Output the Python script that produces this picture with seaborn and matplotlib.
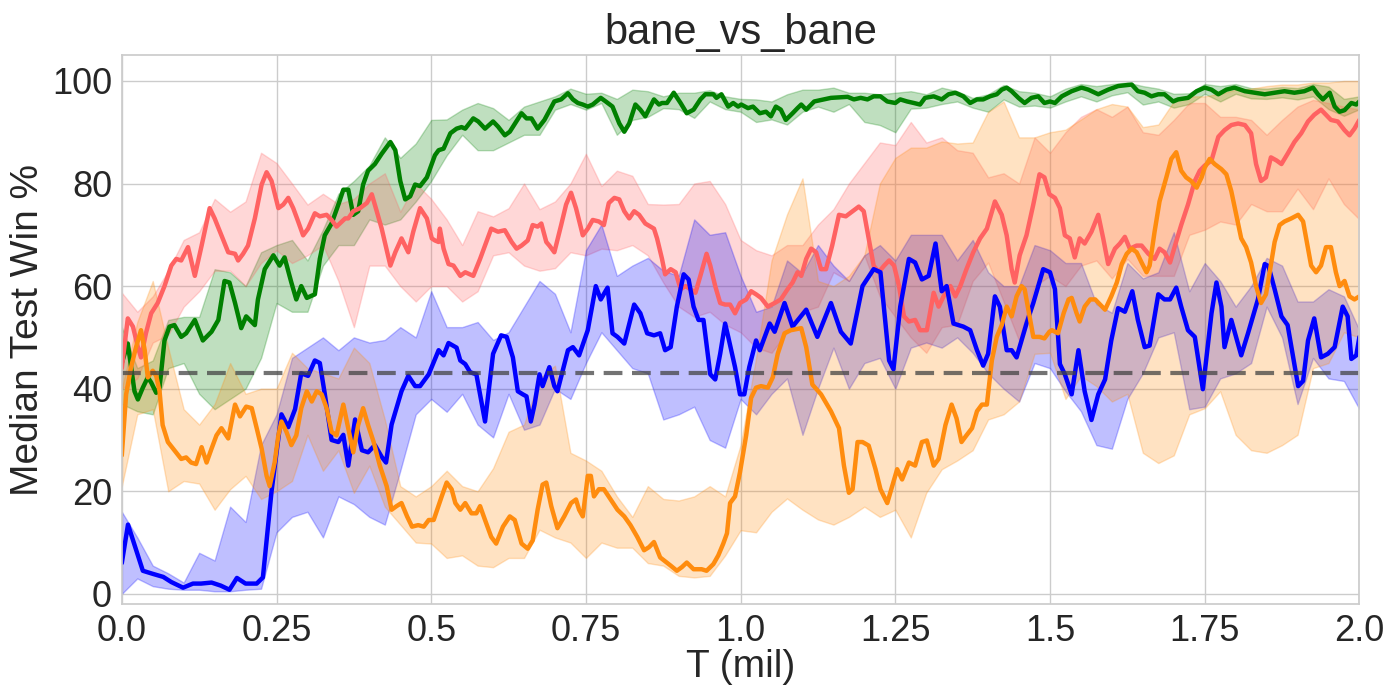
# bane_vs_bane: median test win % over training time, four runs with spread bands

import numpy as np
import pandas as pd
import matplotlib
matplotlib.use('Agg')
import matplotlib.pyplot as plt
import seaborn as sns

# Median lines (x in millions of steps, y in %).
blue_x = [0.0, 0.01, 0.034, 0.05, 0.067, 0.08, 0.099, 0.115, 0.128, 0.145, 0.16, 0.174, 0.186, 0.2, 0.218, 0.228,
          0.242, 0.258, 0.269, 0.28, 0.29, 0.301, 0.312, 0.32, 0.328, 0.339, 0.35, 0.358, 0.366, 0.377, 0.388,
          0.398, 0.409, 0.42, 0.427, 0.436, 0.452, 0.463, 0.474, 0.482, 0.496,
          0.512, 0.52, 0.528, 0.541, 0.547, 0.555, 0.563, 0.573, 0.587, 0.6, 0.613, 0.622, 0.632, 0.64, 0.648,
          0.654, 0.661, 0.667, 0.675, 0.68, 0.691, 0.699, 0.704, 0.721, 0.729, 0.739, 0.753, 0.766, 0.774, 0.785,
          0.793, 0.801, 0.812, 0.828, 0.838, 0.849, 0.86, 0.87, 0.878, 0.887, 0.897, 0.908, 0.916, 0.924, 0.932,
          0.94, 0.951, 0.959, 0.967, 0.975, 0.98, 0.991, 0.999,
          1.006, 1.014, 1.025, 1.031, 1.047, 1.055, 1.071, 1.084, 1.106, 1.124, 1.146, 1.162, 1.178, 1.197, 1.215,
          1.226, 1.24, 1.247, 1.258, 1.272, 1.282, 1.293, 1.304, 1.315, 1.325, 1.333, 1.344, 1.36, 1.371, 1.382,
          1.392, 1.4, 1.411, 1.419, 1.43, 1.438, 1.446, 1.462, 1.473, 1.489,
          1.5, 1.508, 1.516, 1.524, 1.535, 1.546, 1.556, 1.567, 1.578, 1.589, 1.599, 1.61, 1.621, 1.633, 1.642,
          1.653, 1.661, 1.675, 1.685, 1.694, 1.704, 1.712, 1.723, 1.734, 1.747, 1.761, 1.769, 1.777, 1.782, 1.793,
          1.809, 1.82, 1.836, 1.847, 1.853, 1.863, 1.874, 1.884, 1.901, 1.909, 1.917, 1.927, 1.938, 1.949, 1.96,
          1.973, 1.981, 1.987, 1.995, 2.0]
blue_y = [6, 13.5, 4.5, 3.9, 3.3, 2.3, 1.2, 2.0, 2.0, 2.2, 1.6, 0.8, 3.1, 2.0, 2.0, 3.2,
          20, 35, 32.5, 36, 43, 42.5, 45.5, 45, 39, 30, 29.6, 31, 25, 34, 28,
          27.6, 29, 26.7, 25.6, 33, 39.5, 42.5, 40.5, 40.5, 42.8,
          47.5, 46.5, 48.9, 48, 45.5, 44.8, 43.2, 42.8, 33.6, 46.8, 50.4, 50.1, 46.1, 39.5, 38.9,
          38.5, 33.6, 36.9, 42.8, 40.5, 44.2, 40.5, 39.5, 47.5, 48.1, 46.5, 51.4, 60, 57.4, 59.7,
          50.8, 50.1, 48.8, 56.4, 54.7, 50.8, 50.4, 50.8, 47.5, 48.1, 56, 62.3, 61.3, 56, 53.4,
          53.4, 42.8, 41.8, 46.8, 52.7, 50.1, 44.2, 38.9,
          38.9, 44.2, 49.4, 47.5, 52.7, 51.1, 56.7, 52.1, 55.4, 50.1, 56.7, 51.1, 48.8, 60, 63.3,
          62.7, 45.5, 43.8, 56, 65.3, 64.6, 61.3, 62, 68.3, 59, 60, 52.7, 52.1, 51.4, 47.5,
          44.5, 46.8, 58, 56, 47.5, 47.5, 46.1, 52.7, 56.7, 63.3,
          62.7, 59.4, 44.8, 42.8, 38.9, 47.5, 39.5, 33.9, 38.9, 41.8, 49.4, 55.7, 55, 59, 53.4,
          48.1, 48.4, 58.4, 57.4, 57.4, 59.7, 56, 51.4, 50.1, 39.9, 54.7, 60.7, 56, 48.1, 53.4,
          46.5, 50.8, 57.4, 64.3, 63.9, 59.4, 54.1, 52.4, 40.5, 41.5, 49.4, 53.7, 46.1, 46.8, 48.1,
          56, 54.1, 45.8, 46.5, 50.1]

green_x = [0.0, 0.0097, 0.015, 0.0205, 0.026, 0.034, 0.042, 0.0475, 0.0556, 0.061, 0.069, 0.077, 0.085, 0.096,
           0.104, 0.118, 0.131, 0.145, 0.156, 0.166, 0.174, 0.183, 0.193, 0.201, 0.215, 0.22, 0.231, 0.245, 0.255,
           0.263, 0.274, 0.282, 0.29, 0.299, 0.312, 0.32, 0.328, 0.339, 0.35, 0.358, 0.366, 0.374, 0.382, 0.39,
           0.398, 0.409, 0.42, 0.434, 0.442, 0.45, 0.458, 0.466, 0.474, 0.482, 0.493, 0.506,
           0.512, 0.52, 0.531, 0.541, 0.549, 0.555, 0.568, 0.576, 0.587, 0.6, 0.608, 0.619, 0.627, 0.646, 0.654,
           0.662, 0.672, 0.683, 0.699, 0.71, 0.721, 0.729, 0.737, 0.745, 0.753, 0.761, 0.774, 0.782, 0.793, 0.804,
           0.812, 0.82, 0.83, 0.838, 0.846, 0.86, 0.868, 0.873, 0.881, 0.892, 0.903, 0.913, 0.924, 0.935, 0.943,
           0.956, 0.961, 0.969, 0.98, 0.988, 0.996,
           1.001, 1.012, 1.02, 1.031, 1.041, 1.049, 1.057, 1.065, 1.073, 1.084, 1.092, 1.098, 1.106, 1.119, 1.146,
           1.173, 1.183, 1.194, 1.205, 1.215, 1.226, 1.237, 1.25, 1.258, 1.269, 1.28, 1.29, 1.298, 1.312, 1.325,
           1.336, 1.347, 1.36, 1.371, 1.382, 1.392, 1.403, 1.414, 1.422, 1.43, 1.438, 1.449, 1.459, 1.47, 1.481,
           1.491,
           1.5, 1.508, 1.519, 1.535, 1.551, 1.562, 1.578, 1.594, 1.61, 1.632, 1.642, 1.653, 1.664, 1.675, 1.685,
           1.699, 1.707, 1.723, 1.737, 1.75, 1.761, 1.772, 1.785, 1.798, 1.815, 1.831, 1.847, 1.863, 1.879, 1.895,
           1.911, 1.925, 1.933, 1.941, 1.952, 1.96, 1.968, 1.976, 1.987, 1.995, 2.0]
green_y = [45, 48.8, 44.2, 39.5, 37.9, 40.2, 42.2, 41.2, 39.2, 40.2, 49.4, 52.1, 52.4, 50.1,
           50.8, 53.4, 49.4, 51.1, 53.4, 61, 60.7, 56.7, 51.8, 54.1, 52.4, 57.4, 63.3, 66, 64,
           65.6, 60.7, 57.4, 60, 57.7, 58.4, 65.3, 69.9, 72.2, 75.9, 78.8, 78.8, 73.9, 74.6, 79.8,
           82.5, 83.8, 85.8, 88.1, 86.5, 80.5, 76.9, 77.5, 79.8, 79.5, 81.2, 85.5,
           86.5, 86.8, 89.8, 90.7, 91, 90.7, 92.7, 92.1, 90.7, 92.1, 91.1, 89.4, 90.1, 93.7, 92.7,
           92.7, 90.7, 92.4, 96, 96.4, 97.6, 96.4, 95.7, 95.4, 95, 95.4, 96.7, 96, 95, 91.7,
           90.1, 91.7, 95.4, 94.4, 93.1, 96.4, 95.4, 95.7, 95.7, 97.7, 95.7, 93.7, 94.4, 96.4, 97.4,
           97.4, 96.7, 97.4, 95, 95.7, 95,
           95.4, 94.7, 95, 93.7, 94, 93.1, 95, 94.4, 92.4, 93.7, 94.7, 95.4, 94.4, 96, 96.7,
           96.9, 96.4, 96.7, 96.4, 97, 97, 96, 95.7, 96.4, 96, 95.7, 95.4, 96.7, 97, 96.4,
           97.4, 97.7, 97, 95.7, 96.4, 96.4, 97, 97.4, 98.3, 98.7, 98, 96.7, 95.7, 96.7, 97,
           95.7,
           96, 95.7, 97, 98, 98.7, 98.3, 97.4, 98.3, 99, 99.3, 98, 97.7, 97, 97.4, 97.4,
           96, 96.4, 96.7, 98, 98.7, 98.3, 97.4, 98.3, 98.7, 98, 97.7, 97.4, 97.7, 98, 97.7,
           98, 98.7, 97.4, 96.4, 97.7, 95, 94, 94.3, 95.7, 95.4, 96]

red_x = [0.0, 0.0097, 0.018, 0.026, 0.031, 0.039, 0.0475, 0.058, 0.069, 0.08, 0.088, 0.096, 0.107, 0.118, 0.129,
         0.142, 0.15, 0.161, 0.172, 0.183, 0.188, 0.196, 0.204, 0.215, 0.226, 0.234, 0.242, 0.253, 0.261, 0.269,
         0.277, 0.285, 0.293, 0.301, 0.312, 0.32, 0.331, 0.339, 0.347, 0.361, 0.366, 0.374, 0.385, 0.396, 0.404,
         0.412, 0.42, 0.434, 0.442, 0.452, 0.463, 0.471, 0.482, 0.493, 0.501, 0.506,
         0.512, 0.514, 0.52, 0.528, 0.536, 0.547, 0.555, 0.568, 0.579, 0.587, 0.597, 0.608, 0.619, 0.63, 0.638,
         0.646, 0.656, 0.664, 0.672, 0.678, 0.686, 0.691, 0.699, 0.71, 0.718, 0.726, 0.734, 0.745, 0.753, 0.761,
         0.771, 0.779, 0.787, 0.796, 0.804, 0.812, 0.82, 0.828, 0.836, 0.846, 0.86, 0.865, 0.873, 0.878, 0.887,
         0.895, 0.903, 0.911, 0.919, 0.927, 0.935, 0.945, 0.951, 0.959, 0.967, 0.975, 0.983, 0.991, 0.999,
         1.009, 1.017, 1.025, 1.033, 1.044, 1.055, 1.065, 1.076, 1.084, 1.092, 1.098, 1.106, 1.114, 1.122, 1.13,
         1.138, 1.148, 1.159, 1.17, 1.181, 1.191, 1.199, 1.207, 1.215, 1.223, 1.232, 1.24, 1.248, 1.256, 1.264,
         1.272, 1.282, 1.29, 1.301, 1.312, 1.32, 1.328, 1.339, 1.347, 1.355, 1.365, 1.376, 1.387, 1.398, 1.411,
         1.422, 1.43, 1.438, 1.443, 1.451, 1.462, 1.473, 1.483, 1.491, 1.499,
         1.508, 1.516, 1.524, 1.532, 1.54, 1.548, 1.556, 1.567, 1.578, 1.586, 1.594, 1.605, 1.613, 1.621, 1.629,
         1.64, 1.648, 1.659, 1.669, 1.677, 1.685, 1.694, 1.702, 1.712, 1.723, 1.734, 1.742, 1.75, 1.761, 1.772,
         1.782, 1.793, 1.804, 1.815, 1.825, 1.833, 1.841, 1.849, 1.857, 1.866, 1.874, 1.884, 1.895, 1.906, 1.917,
         1.927, 1.938, 1.946, 1.954, 1.965, 1.976, 1.984, 1.992, 2.0]
red_y = [44, 53.7, 52.1, 48.1, 46.1, 50.8, 54.7, 56.7, 60, 64, 65.3, 65, 67.6, 62, 67.9,
         75.2, 73.2, 69.9, 66.6, 66.3, 65, 66.3, 67.9, 73.2, 79.8, 82.2, 80.5, 75.2, 75.9, 77.2,
         75.2, 72.6, 69.9, 71.2, 74.2, 73.6, 73.9, 72.9, 71.6, 73.2, 73.2, 74.6, 75.2, 76.2, 77.9,
         74.6, 71.2, 64, 66.6, 69.3, 66.6, 70.6, 75.2, 73.2, 69.3, 68.9,
         68.6, 71.2, 67.3, 64.3, 64, 62, 62.7, 62, 65.3, 67.9, 71.2, 70.6, 70.9, 68.6, 67.3,
         67.9, 68.9, 71.9, 71.6, 72.2, 68.6, 67.9, 66.6, 71.9, 75.9, 78.2, 75.2, 69.9, 71.2, 72.9,
         72.6, 71.9, 76.2, 77.2, 76.9, 74.6, 73.2, 74.6, 73.9, 72.2, 71.2, 69.3, 65.3, 62.3, 63.3,
         62.7, 59.4, 60, 59.4, 58.7, 62, 66.3, 64, 60, 56.7, 56.4, 56.4, 54.7, 56.7,
         57.4, 59, 58.4, 57.7, 56, 56.7, 57.4, 59.4, 60.7, 62.7, 62, 65.3, 67.3, 66.6, 63.3,
         63.3, 67.9, 73.9, 73.6, 74.6, 75.5, 74.6, 69.3, 64, 62.7, 64, 65, 64, 60, 54.1,
         53.1, 53.4, 51.4, 51.4, 58.7, 56, 58, 60, 58, 60, 63.3, 66.6, 69.3, 71.2, 76.5,
         73.9, 69.9, 63.3, 60.7, 66, 69.9, 75.9, 81.8, 81.2, 77.9,
         77.2, 75.2, 69.9, 69.3, 65.6, 69.3, 68.3, 70.6, 73.9, 69.3, 64.3, 67.3, 68.3, 69.6, 67.3,
         67.9, 67.9, 66.3, 65.3, 67.3, 66.6, 64.6, 67.9, 71.9, 75.9, 80.5, 82.5, 83.5, 84.5, 89.1,
         90.4, 91.4, 91.7, 91.4, 89.8, 83.8, 80.5, 81.2, 85.1, 84.5, 83.8, 85.8, 88.1, 89.8, 92.1,
         93.4, 94.4, 93.4, 92.4, 92.1, 90.4, 89.4, 90.7, 92.4]

orange_x = [0.0, 0.007, 0.015, 0.023, 0.031, 0.037, 0.042, 0.05, 0.0556, 0.061, 0.066, 0.0745, 0.085, 0.096,
            0.104, 0.112, 0.12, 0.129, 0.137, 0.145, 0.153, 0.161, 0.172, 0.183, 0.191, 0.201, 0.21, 0.218, 0.226,
            0.234, 0.239, 0.247, 0.253, 0.258, 0.266, 0.274, 0.282, 0.29, 0.299, 0.307, 0.315, 0.323, 0.331, 0.339,
            0.347, 0.358, 0.366, 0.374, 0.382, 0.39, 0.398, 0.407, 0.417, 0.428, 0.436, 0.444, 0.452, 0.461, 0.469,
            0.479, 0.488, 0.496, 0.504,
            0.517, 0.525, 0.533, 0.539, 0.547, 0.555, 0.565, 0.573, 0.579, 0.587, 0.597, 0.605, 0.616, 0.627, 0.635,
            0.646, 0.656, 0.664, 0.672, 0.68, 0.686, 0.694, 0.704, 0.715, 0.726, 0.734, 0.739, 0.745, 0.753, 0.758,
            0.763, 0.771, 0.779, 0.79, 0.801, 0.812, 0.822, 0.833, 0.844, 0.852, 0.86, 0.87, 0.887, 0.897, 0.905,
            0.913, 0.924, 0.937, 0.945, 0.956, 0.964, 0.972, 0.978, 0.983, 0.991, 0.999,
            1.009, 1.017, 1.025, 1.033, 1.044, 1.052, 1.06, 1.071, 1.081, 1.098, 1.106, 1.116, 1.13, 1.146, 1.159,
            1.167, 1.175, 1.181, 1.189, 1.197, 1.207, 1.218, 1.226, 1.237, 1.245, 1.253, 1.261, 1.272, 1.282, 1.293,
            1.301, 1.312, 1.32, 1.331, 1.341, 1.349, 1.357, 1.365, 1.374, 1.382, 1.39, 1.398, 1.406, 1.414, 1.422,
            1.43, 1.438, 1.446, 1.454, 1.459, 1.467, 1.473, 1.483, 1.491, 1.499,
            1.503, 1.513, 1.522, 1.53, 1.535, 1.543, 1.548, 1.556, 1.565, 1.573, 1.581, 1.589, 1.599, 1.608, 1.616,
            1.624, 1.632, 1.64, 1.648, 1.656, 1.661, 1.669, 1.677, 1.688, 1.696, 1.704, 1.712, 1.72, 1.728, 1.737,
            1.745, 1.75, 1.758, 1.766, 1.777, 1.785, 1.793, 1.801, 1.809, 1.817, 1.825, 1.833, 1.841, 1.849, 1.855,
            1.863, 1.871, 1.879, 1.89, 1.901, 1.909, 1.917, 1.922, 1.93, 1.938, 1.946, 1.954, 1.962, 1.968, 1.976,
            1.984, 1.992, 2.0]
orange_y = [27, 38.9, 44.2, 48.1, 51.4, 47.5, 42.2, 43.5, 42.5, 39.5, 32.9, 29.6, 28, 26.3,
            26.6, 25.6, 25.3, 28.6, 25.6, 28.3, 30.9, 32.3, 30.3, 36.9, 34.6, 36.5, 36.2, 32.3, 28.3,
            23, 21, 25.6, 30.9, 33.6, 31.6, 29, 30.9, 36.2, 39.5, 37.5, 39.5, 38.9, 36.2, 31.6,
            30.9, 36.9, 32.3, 27.6, 32.9, 36.2, 32.9, 29.6, 25, 21, 16.4, 17.1, 17.7, 15.1, 13.1,
            13.4, 13.1, 14.4, 14.4,
            19, 21.7, 20.4, 17.7, 16.4, 17.7, 15.7, 15.7, 17.1, 14.4, 11.1, 9.8, 13.1, 15.1, 14.4,
            9.8, 8.8, 10.4, 16.4, 21.3, 21.7, 17.1, 12.8, 15.1, 17.7, 18.4, 16.4, 15.1, 23, 23,
            19, 20.4, 20.4, 18.4, 16.4, 15.1, 13.4, 11.1, 8.5, 9.1, 10.1, 7.1, 5.5, 4.5, 5.2,
            6.1, 4.8, 4.8, 4.5, 5.8, 7.5, 9.8, 11.8, 17.7, 19, 23.7,
            30.9, 38.2, 40.2, 40.5, 40.2, 42.2, 46.8, 50.8, 51.4, 51.8, 48.1, 40.8, 38.9, 35.6, 32.3,
            25, 19.7, 20.4, 29.6, 29.6, 28.9, 24.3, 20.4, 17.7, 21, 24.3, 22.3, 25.6, 25, 29.6,
            29.9, 25, 26.3, 32.9, 36.9, 34.2, 29.6, 30.9, 32.3, 35.6, 36.9, 36.9, 45.5, 50.1, 52.4,
            56, 54.1, 58, 60, 59.4, 54.1, 50.1, 50.1, 49.8, 51.1,
            51.4, 50.8, 54.7, 57.4, 57.7, 54.7, 53.1, 56, 57.4, 57.4, 56.4, 55.4, 58, 60.7, 64.3,
            66.3, 67.3, 66.6, 64.6, 62.7, 64, 70.6, 76.5, 81.2, 84.8, 86.1, 82.5, 81.2, 80.5, 79.2,
            81.2, 83.1, 84.8, 83.8, 82.8, 81.8, 78.5, 73.9, 69.3, 67.6, 64.6, 60, 56.7, 58.4, 62.7,
            68.6, 71.9, 72.6, 73.2, 73.9, 72.6, 67.3, 64, 62.7, 64, 67.6, 67.6, 62.7, 60, 61,
            58, 57.4, 58]

# Spread bands, read every 0.025 from 0 to 2.0.
band_x = np.linspace(0, 2.0, 81)
blue_lo = [0, 3, 1.5, 1, 0.8, 0.8, 0.5, 0.5, 0.8, 1, 12, 15, 16, 11, 19, 17.5, 15, 13.5, 24, 35, 38,
           35.5, 39, 33, 30.5, 39, 32, 33, 40, 38, 45, 51, 47.5, 44, 43, 34, 35, 36.5, 30, 28.5, 38,
           35, 39, 42, 31, 40, 48, 40, 45, 46, 40, 48, 49, 48, 50, 47, 43, 40, 37.5, 45, 44,
           39.5, 35.6, 29, 28.3, 38, 43, 50, 51, 36, 36.5, 42, 43, 45, 56, 50, 37, 46, 42, 41.5, 36]
blue_hi = [16, 11, 5.5, 4, 2.2, 8, 6.5, 17, 14, 29, 35, 46, 48, 50, 47.5, 50, 49, 49.5, 52, 50, 59,
           52, 52, 53, 49.5, 51, 56, 61, 58.5, 51, 67, 72, 62, 64, 65.5, 63, 62, 73, 70, 70.5, 62,
           55, 56, 65, 62.5, 68, 64, 61, 66, 68, 65, 70, 70, 70, 65, 69, 62.7, 60, 60, 68, 67,
           64.5, 64.5, 56.5, 54.8, 64.5, 61.5, 62.7, 70.5, 59, 64.5, 61, 56, 60, 65.5, 64, 57, 57, 59.4, 58, 51.4]
green_lo = [37, 35.6, 35, 44, 45, 39, 36, 38, 40, 46, 56.7, 55, 55, 64, 68, 68, 73, 72, 73, 76.5, 80.5,
            85.5, 89.5, 86.5, 86.5, 88, 89.5, 89.5, 94.4, 95.5, 94.4, 95.7, 89.5, 92.4, 93, 94.7, 94.5, 92.8, 96, 94.5, 94,
            92, 92.5, 91.5, 94, 95, 94, 95.5, 92, 91.4, 90, 94.6, 94.8, 95.5, 96, 94.8, 94, 96.4, 95, 95.2, 94.8,
            96, 97, 96, 97.2, 97.8, 95.4, 96, 94.8, 95.5, 97.5, 96, 97.5, 96.6, 96.5, 96.8, 96.4, 97, 94.5, 93.2, 94.5]
green_hi = [52, 44, 45.5, 53.4, 54, 54, 63.3, 62.7, 60, 66.6, 68, 69, 65, 71, 78, 80.5, 83.5, 89, 85, 87.8, 92.4,
            92.5, 94.4, 95.7, 94.7, 92.4, 95, 96, 97, 98.5, 97.5, 97.7, 96.5, 98.3, 98, 97, 97.7, 97.7, 98.2, 97, 96.5,
            96.4, 96, 97.4, 98.3, 98.3, 98.7, 97.7, 97.7, 97.4, 97.7, 98, 97.4, 98.7, 98, 96.7, 97.4, 99.2, 98, 97.7, 97,
            98.5, 99.4, 99, 99.4, 99.7, 99, 98.5, 97.5, 97.6, 99.4, 99, 99.4, 98.6, 98.5, 98.8, 98.6, 99.4, 98.9, 96.5, 97]
red_lo = [40, 42, 49, 50.5, 56, 59, 63, 63, 60, 64.5, 67, 64.5, 66, 68, 61, 52, 64, 64, 60, 57, 60,
          60, 57, 59, 66, 66.6, 64, 63, 63.5, 66.6, 66, 67.3, 67, 68, 66, 60.7, 56, 54, 55, 52.5, 51,
          48, 47, 51, 55, 56, 62.7, 61, 66, 58, 54, 50, 47, 52, 52.5, 61, 64.6, 57, 49.4, 60, 62,
          60, 64, 65, 61.5, 65.3, 62, 62, 62, 70, 71, 72.6, 72, 76, 74.6, 74.6, 79, 75, 81, 76, 73]
red_hi = [58.7, 55, 58, 63, 69, 70.5, 77, 74.5, 76.5, 86, 84, 80, 75.9, 78, 76, 77, 80, 82, 74.5, 80, 77,
          73, 68, 74.6, 73.6, 75.2, 80, 75, 76.5, 80, 85.8, 79.5, 82.5, 81.5, 76, 75.9, 76, 80, 80.5, 76, 69,
          67, 66, 68, 68, 72, 75, 80, 84, 88, 87.5, 92, 88, 89, 86.5, 86, 81.2, 82, 80, 89, 86,
          90, 93, 94.5, 93, 95, 90, 89.5, 92.4, 95.7, 95.7, 93, 93, 92.4, 89.5, 92.4, 95, 96.3, 95.7, 95, 94.4]
orange_lo = [21, 35, 36, 20, 22, 21.5, 16.4, 20.4, 23, 18.5, 20, 22, 31, 24, 28, 19.7, 25, 17, 13.5, 10, 9.8,
             7, 7.5, 5.5, 5.2, 7, 7, 12.5, 11, 10, 7, 10, 9, 9, 6, 5.5, 3.5, 3.2, 3.5, 7.5, 12.4,
             12, 16, 18.6, 16.4, 14.5, 13.5, 15, 17, 15, 16.4, 11, 19.7, 24.3, 26, 28, 34, 35, 37.5, 46.8, 47,
             38, 42.5, 40.5, 37.5, 39, 27.5, 25.5, 27, 35, 36.2, 39.5, 31, 28, 27.5, 29, 31, 44, 45, 51, 50]
orange_hi = [40, 53, 61, 48, 36, 33, 37, 45, 39, 40, 40, 47, 44, 43, 42, 48, 45, 34, 21, 19, 21,
             24, 21, 20, 24.5, 31.6, 33, 42, 44.5, 27.5, 26, 24, 19, 15, 21, 18.5, 18.2, 19, 21, 19, 29,
             46, 65, 74, 81, 61, 60, 62, 66, 80, 85, 87, 87, 88.2, 87.8, 88, 94, 96, 89, 89, 90,
             90.5, 92.5, 94.5, 95.5, 95, 91, 91.5, 96, 97, 97, 97.5, 98.3, 98.5, 99, 99.3, 99.3, 99.7, 99.7, 100, 100]

baseline = 43
x_ticks = [0, 0.25, 0.5, 0.75, 1.0, 1.25, 1.5, 1.75, 2.0]
x_tick_labels = ['0.0', '0.25', '0.5', '0.75', '1.0', '1.25', '1.5', '1.75', '2.0']

runs = [
    ('green', green_x, green_y, green_lo, green_hi),
    ('#ff6262', red_x, red_y, red_lo, red_hi),
    ('blue', blue_x, blue_y, blue_lo, blue_hi),
    ('#ff8c0e', orange_x, orange_y, orange_lo, orange_hi),
]

sns.set_theme(style='whitegrid')
plt.rcParams['font.family'] = ['Liberation Sans', 'DejaVu Sans']

fig, ax = plt.subplots(figsize=(14, 7), dpi=100)
fig.subplots_adjust(left=0.087, right=0.971, top=0.921, bottom=0.137)

# Bands first, then the median lines on top.
for color, xs, ys, lo, hi in runs:
    ax.fill_between(band_x, lo, hi, color=color, alpha=0.25, linewidth=1)

for color, xs, ys, lo, hi in runs:
    line_df = pd.DataFrame({'T': xs, 'win': ys})
    sns.lineplot(data=line_df, x='T', y='win', color=color, linewidth=3.2, ax=ax, estimator=None, sort=False)

ax.axhline(baseline, color='#444444', alpha=0.75, linewidth=3, linestyle=(0, (4.5, 2.3)))

ax.set_xlim(0, 2.0)
ax.set_ylim(-2, 105)
ax.set_xticks(x_ticks)
ax.set_xticklabels(x_tick_labels)
ax.set_yticks([0, 20, 40, 60, 80, 100])
ax.tick_params(labelsize=26, colors='#262626', pad=1)
ax.set_xlabel('T (mil)', fontsize=28, color='#262626', labelpad=0)
ax.set_ylabel('Median Test Win %', fontsize=28, color='#262626', labelpad=4)
ax.set_title('bane_vs_bane', fontsize=30, color='#262626', pad=8)

plt.savefig('out.png', dpi=100)
